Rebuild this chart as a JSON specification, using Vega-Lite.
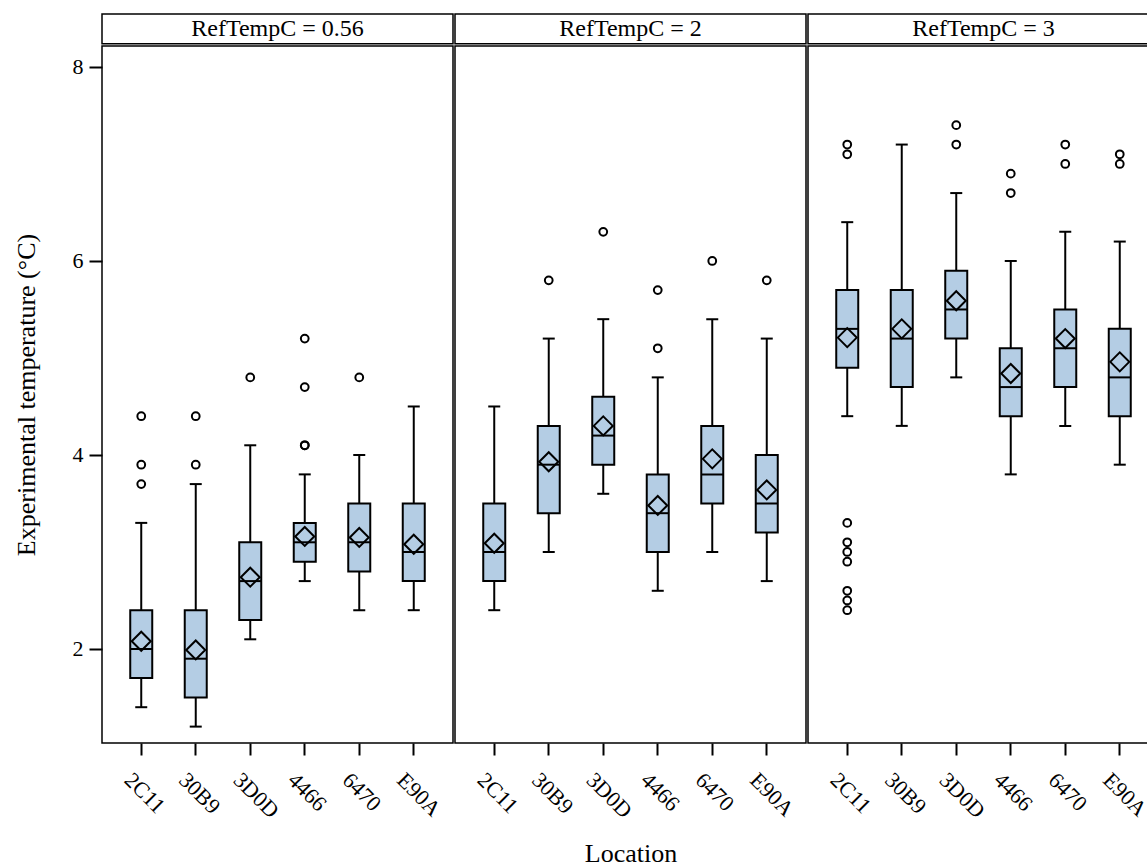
{
  "$schema": "https://vega.github.io/schema/vega-lite/v6.json",
  "padding": {"left": 13, "top": 12, "right": 0, "bottom": 0},
  "background": "white",
  "bounds": "flush",
  "config": {
    "font": "Liberation Serif",
    "view": {"stroke": "#000", "strokeWidth": 1.5},
    "axis": {"grid": false, "domain": false, "tickColor": "#000", "tickWidth": 2, "tickSize": 12, "labelColor": "#000", "titleColor": "#000", "labelFont": "Liberation Serif", "titleFont": "Liberation Serif", "labelFontSize": 22, "titleFontSize": 26, "titleFontWeight": "normal"}
  },
  "data": {"values": [
    {"RefTempC": 0.56, "Location": "2C11", "lower": 1.4, "q1": 1.7, "median": 2.0, "mean": 2.08, "q3": 2.4, "upper": 3.3},
    {"RefTempC": 0.56, "Location": "30B9", "lower": 1.2, "q1": 1.5, "median": 1.9, "mean": 1.99, "q3": 2.4, "upper": 3.7},
    {"RefTempC": 0.56, "Location": "3D0D", "lower": 2.1, "q1": 2.3, "median": 2.7, "mean": 2.74, "q3": 3.1, "upper": 4.1},
    {"RefTempC": 0.56, "Location": "4466", "lower": 2.7, "q1": 2.9, "median": 3.1, "mean": 3.16, "q3": 3.3, "upper": 3.8},
    {"RefTempC": 0.56, "Location": "6470", "lower": 2.4, "q1": 2.8, "median": 3.1, "mean": 3.15, "q3": 3.5, "upper": 4.0},
    {"RefTempC": 0.56, "Location": "E90A", "lower": 2.4, "q1": 2.7, "median": 3.0, "mean": 3.08, "q3": 3.5, "upper": 4.5},
    {"RefTempC": 2, "Location": "2C11", "lower": 2.4, "q1": 2.7, "median": 3.0, "mean": 3.09, "q3": 3.5, "upper": 4.5},
    {"RefTempC": 2, "Location": "30B9", "lower": 3.0, "q1": 3.4, "median": 3.9, "mean": 3.93, "q3": 4.3, "upper": 5.2},
    {"RefTempC": 2, "Location": "3D0D", "lower": 3.6, "q1": 3.9, "median": 4.2, "mean": 4.30, "q3": 4.6, "upper": 5.4},
    {"RefTempC": 2, "Location": "4466", "lower": 2.6, "q1": 3.0, "median": 3.4, "mean": 3.48, "q3": 3.8, "upper": 4.8},
    {"RefTempC": 2, "Location": "6470", "lower": 3.0, "q1": 3.5, "median": 3.8, "mean": 3.96, "q3": 4.3, "upper": 5.4},
    {"RefTempC": 2, "Location": "E90A", "lower": 2.7, "q1": 3.2, "median": 3.5, "mean": 3.64, "q3": 4.0, "upper": 5.2},
    {"RefTempC": 3, "Location": "2C11", "lower": 4.4, "q1": 4.9, "median": 5.3, "mean": 5.21, "q3": 5.7, "upper": 6.4},
    {"RefTempC": 3, "Location": "30B9", "lower": 4.3, "q1": 4.7, "median": 5.2, "mean": 5.30, "q3": 5.7, "upper": 7.2},
    {"RefTempC": 3, "Location": "3D0D", "lower": 4.8, "q1": 5.2, "median": 5.5, "mean": 5.59, "q3": 5.9, "upper": 6.7},
    {"RefTempC": 3, "Location": "4466", "lower": 3.8, "q1": 4.4, "median": 4.7, "mean": 4.84, "q3": 5.1, "upper": 6.0},
    {"RefTempC": 3, "Location": "6470", "lower": 4.3, "q1": 4.7, "median": 5.1, "mean": 5.20, "q3": 5.5, "upper": 6.3},
    {"RefTempC": 3, "Location": "E90A", "lower": 3.9, "q1": 4.4, "median": 4.8, "mean": 4.96, "q3": 5.3, "upper": 6.2},
    {"RefTempC": 0.56, "Location": "2C11", "outlier": 3.7},
    {"RefTempC": 0.56, "Location": "2C11", "outlier": 3.9},
    {"RefTempC": 0.56, "Location": "2C11", "outlier": 4.4},
    {"RefTempC": 0.56, "Location": "30B9", "outlier": 3.9},
    {"RefTempC": 0.56, "Location": "30B9", "outlier": 4.4},
    {"RefTempC": 0.56, "Location": "3D0D", "outlier": 4.8},
    {"RefTempC": 0.56, "Location": "4466", "outlier": 4.1},
    {"RefTempC": 0.56, "Location": "4466", "outlier": 4.1},
    {"RefTempC": 0.56, "Location": "4466", "outlier": 4.7},
    {"RefTempC": 0.56, "Location": "4466", "outlier": 5.2},
    {"RefTempC": 0.56, "Location": "6470", "outlier": 4.8},
    {"RefTempC": 2, "Location": "30B9", "outlier": 5.8},
    {"RefTempC": 2, "Location": "3D0D", "outlier": 6.3},
    {"RefTempC": 2, "Location": "4466", "outlier": 5.1},
    {"RefTempC": 2, "Location": "4466", "outlier": 5.7},
    {"RefTempC": 2, "Location": "6470", "outlier": 6.0},
    {"RefTempC": 2, "Location": "E90A", "outlier": 5.8},
    {"RefTempC": 3, "Location": "2C11", "outlier": 7.1},
    {"RefTempC": 3, "Location": "2C11", "outlier": 7.2},
    {"RefTempC": 3, "Location": "2C11", "outlier": 3.3},
    {"RefTempC": 3, "Location": "2C11", "outlier": 3.1},
    {"RefTempC": 3, "Location": "2C11", "outlier": 3.0},
    {"RefTempC": 3, "Location": "2C11", "outlier": 2.9},
    {"RefTempC": 3, "Location": "2C11", "outlier": 2.6},
    {"RefTempC": 3, "Location": "2C11", "outlier": 2.5},
    {"RefTempC": 3, "Location": "2C11", "outlier": 2.4},
    {"RefTempC": 3, "Location": "3D0D", "outlier": 7.2},
    {"RefTempC": 3, "Location": "3D0D", "outlier": 7.4},
    {"RefTempC": 3, "Location": "4466", "outlier": 6.7},
    {"RefTempC": 3, "Location": "4466", "outlier": 6.9},
    {"RefTempC": 3, "Location": "6470", "outlier": 7.0},
    {"RefTempC": 3, "Location": "6470", "outlier": 7.2},
    {"RefTempC": 3, "Location": "E90A", "outlier": 7.0},
    {"RefTempC": 3, "Location": "E90A", "outlier": 7.1}
  ]},
  "facet": {"column": {"field": "RefTempC", "type": "ordinal", "header": {"title": "Location", "titleOrient": "bottom", "titleFont": "Liberation Serif", "titleFontSize": 26, "titleFontWeight": "normal", "titleColor": "#000", "titlePadding": 9, "labels": false}}},
  "spacing": 2,
  "spec": {
    "width": 351,
    "height": 697,
    "layer": [
      {
        "transform": [{"filter": "isValid(datum.q1)"}],
        "mark": {"type": "rule", "color": "#000", "strokeWidth": 2, "opacity": 1},
        "encoding": {
          "x": {"field": "Location", "type": "nominal", "sort": ["2C11", "30B9", "3D0D", "4466", "6470", "E90A"], "scale": {"paddingInner": 0.5, "paddingOuter": 0.47}, "title": null, "axis": {"labelAngle": 45, "labelPadding": 14, "labelOffset": -6, "labelFontSize": 22}},
          "y": {"field": "lower", "type": "quantitative", "scale": {"domain": [1.031, 8.216], "nice": false, "zero": false}, "title": "Experimental temperature (°C)", "axis": {"values": [2, 4, 6, 8], "format": "d", "tickSize": 13, "labelPadding": 6, "labelFontSize": 22, "titlePadding": 33}},
          "y2": {"field": "upper"}
        }
      },
      {
        "transform": [{"filter": "isValid(datum.q1)"}],
        "mark": {"type": "tick", "color": "#000", "size": 12, "thickness": 2, "opacity": 1},
        "encoding": {"x": {"field": "Location", "type": "nominal"}, "y": {"field": "lower", "type": "quantitative"}}
      },
      {
        "transform": [{"filter": "isValid(datum.q1)"}],
        "mark": {"type": "tick", "color": "#000", "size": 12, "thickness": 2, "opacity": 1},
        "encoding": {"x": {"field": "Location", "type": "nominal"}, "y": {"field": "upper", "type": "quantitative"}}
      },
      {
        "transform": [{"filter": "isValid(datum.q1)"}],
        "mark": {"type": "bar", "size": 22, "fill": "#b4cde4", "stroke": "#000", "strokeWidth": 2, "opacity": 1},
        "encoding": {"x": {"field": "Location", "type": "nominal"}, "y": {"field": "q1", "type": "quantitative"}, "y2": {"field": "q3"}}
      },
      {
        "transform": [{"filter": "isValid(datum.q1)"}],
        "mark": {"type": "tick", "color": "#000", "size": 22, "thickness": 2, "opacity": 1},
        "encoding": {"x": {"field": "Location", "type": "nominal"}, "y": {"field": "median", "type": "quantitative"}}
      },
      {
        "transform": [{"filter": "isValid(datum.q1)"}],
        "mark": {"type": "point", "shape": "diamond", "filled": false, "size": 360, "stroke": "#000", "strokeWidth": 2, "opacity": 1},
        "encoding": {"x": {"field": "Location", "type": "nominal"}, "y": {"field": "mean", "type": "quantitative"}}
      },
      {
        "transform": [{"filter": "isValid(datum.outlier)"}],
        "mark": {"type": "point", "shape": "circle", "filled": false, "size": 60, "stroke": "#000", "strokeWidth": 2, "opacity": 1},
        "encoding": {"x": {"field": "Location", "type": "nominal"}, "y": {"field": "outlier", "type": "quantitative"}}
      },
      {
        "transform": [{"filter": "isValid(datum.q1) && datum.Location == '2C11'"}],
        "mark": {"type": "rect", "fill": "white", "stroke": "#000", "strokeWidth": 1.5},
        "encoding": {"x": {"value": 0}, "x2": {"value": "width"}, "y": {"datum": 8.24}, "y2": {"datum": 8.546}}
      },
      {
        "transform": [{"filter": "isValid(datum.q1) && datum.Location == '2C11'"}, {"calculate": "'RefTempC = ' + datum.RefTempC", "as": "label"}],
        "mark": {"type": "text", "fontSize": 24, "color": "#000", "align": "center", "baseline": "middle", "font": "Liberation Serif"},
        "encoding": {"y": {"datum": 8.39}, "text": {"field": "label"}}
      }
    ]
  }
}
